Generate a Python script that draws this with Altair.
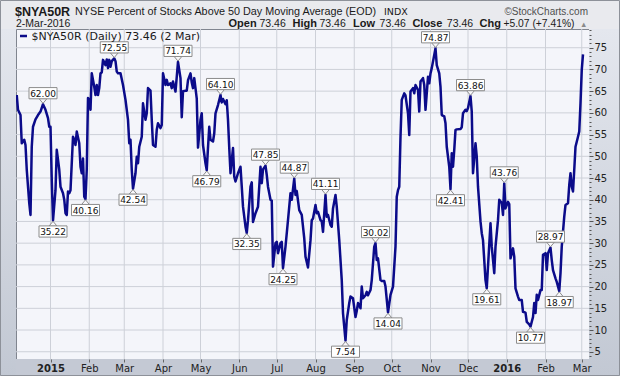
import altair as alt
import pandas as pd

# ---------------- data ----------------
d2014_12 = [5, 6, 8, 9, 11, 12, 13, 15, 16, 17, 18, 20, 22, 24, 26, 28, 30, 31]
v2014_12 = [64.1, 60.7, 59.5, 53.0, 53.8, 52.6, 46.9, 39.2, 36.5, 52.2, 56.8, 58.5, 59.5, 60.3, 62.0, 60.7, 58.8, 56.8]
d2015_01 = [1, 2, 3, 5, 6, 7, 8, 9, 11, 12, 13, 14, 15, 16, 17, 19, 20, 21, 22, 24, 25, 26, 27, 28, 29, 30, 31]
v2015_01 = [56.8, 44.6, 35.22, 42.2, 51.5, 49.2, 46.9, 43.0, 41.5, 40.0, 36.9, 36.5, 41.9, 41.5, 42.2, 54.5, 53.8, 52.6, 55.7, 53.0, 47.6, 46.1, 49.5, 40.7, 40.16, 46.9, 63.4]
d2015_02 = [1, 2, 3, 5, 6, 7, 8, 9, 10, 11, 12, 14, 15, 16, 17, 18, 19, 21, 22, 23, 24, 26, 28]
v2015_02 = [63.0, 60.7, 69.1, 66.0, 64.1, 66.4, 64.1, 65.7, 69.1, 69.3, 72.2, 71.0, 72.3, 70.3, 72.2, 70.6, 71.9, 72.55, 71.9, 69.5, 69.1, 69.1, 66.4]
d2015_03 = [2, 4, 5, 6, 7, 8, 10, 11, 12, 13, 15, 16, 18, 19, 20, 22, 23, 24, 26, 27, 28, 30, 31]
v2015_03 = [63.0, 58.4, 53.0, 53.8, 46.9, 42.54, 46.1, 49.9, 48.4, 52.2, 54.5, 62.2, 58.4, 59.9, 65.7, 65.1, 58.4, 52.6, 52.2, 56.1, 57.6, 56.5, 57.2]
d2015_04 = [1, 3, 4, 5, 7, 8, 9, 11, 12, 13, 15, 16, 17, 19, 20, 21, 23, 24, 25, 26, 28, 29]
v2015_04 = [69.1, 66.4, 67.6, 66.4, 66.8, 65.7, 67.2, 64.9, 68.3, 71.74, 68.0, 59.0, 65.0, 65.1, 65.1, 67.5, 69.1, 67.0, 65.7, 68.0, 63.3, 52.0]
d2015_05 = [1, 2, 3, 5, 6, 7, 8, 9, 11, 12, 13, 15, 17, 18, 19, 21, 22, 23, 24, 25, 27, 28, 29, 31]
v2015_05 = [58.4, 59.9, 52.6, 48.4, 46.79, 52.0, 56.8, 53.8, 53.4, 55.3, 59.9, 61.8, 64.10, 62.4, 63.2, 62.0, 62.9, 58.4, 51.9, 46.1, 51.9, 45.3, 44.2, 46.1]
d2015_06 = [2, 3, 4, 6, 7, 8, 10, 11, 12, 14, 16, 17, 18, 19, 20, 22, 23, 24, 26, 27, 28, 30]
v2015_06 = [47.6, 43.0, 38.4, 33.8, 32.35, 35.3, 43.0, 44.0, 34.9, 36.9, 38.4, 43.0, 47.6, 43.8, 47.0, 47.85, 45.7, 43.0, 40.0, 39.8, 24.6, 30.0]
d2015_07 = [1, 2, 4, 5, 6, 8, 10, 12, 13, 15, 16, 17, 19, 21, 23, 24, 26, 28, 29, 30]
v2015_07 = [30.3, 27.7, 30.0, 30.3, 24.25, 29.2, 35.3, 41.5, 40.0, 44.87, 41.1, 42.0, 37.6, 36.5, 31.1, 26.9, 24.4, 30.7, 35.3, 35.7]
d2015_08 = [1, 2, 3, 5, 6, 7, 9, 10, 11, 13, 14, 15, 17, 18, 20, 22, 23, 25, 26, 28, 29, 31]
v2015_08 = [38.8, 36.9, 37.2, 35.3, 35.0, 32.6, 41.11, 36.1, 36.5, 34.2, 33.8, 38.0, 41.1, 38.4, 30.7, 21.5, 13.9, 7.54, 12.3, 16.2, 17.7, 17.3]
d2015_09 = [2, 3, 4, 6, 7, 8, 10, 11, 12, 14, 15, 17, 18, 19, 20, 22, 23, 25, 26, 28, 30]
v2015_09 = [13.0, 14.4, 16.2, 15.0, 20.0, 17.3, 18.0, 18.8, 18.0, 19.2, 21.5, 29.2, 30.02, 26.1, 26.5, 21.5, 21.3, 21.3, 20.0, 14.04, 18.1]
d2015_10 = [2, 4, 5, 6, 7, 8, 9, 11, 12, 14, 15, 16, 18, 19, 20, 22, 23, 24, 26, 27, 28, 30, 31]
v2015_10 = [20.0, 29.2, 40.7, 42.2, 43.0, 54.5, 63.0, 64.5, 64.0, 59.9, 54.9, 64.9, 65.7, 64.5, 66.4, 65.3, 60.3, 67.2, 68.0, 66.4, 60.7, 68.3, 66.8]
d2015_11 = [1, 2, 4, 5, 6, 8, 9, 10, 12, 13, 14, 16, 17, 18, 19, 20, 21, 22, 25, 26, 27, 29, 30]
v2015_11 = [69.1, 70.3, 73.3, 74.87, 71.0, 69.1, 66.0, 59.5, 59.2, 57.6, 52.2, 47.6, 42.41, 50.7, 47.6, 51.5, 56.1, 56.2, 56.3, 56.7, 59.9, 60.7, 60.4]
d2015_12 = [1, 3, 4, 5, 7, 8, 9, 11, 12, 13, 15, 16, 17, 19, 20, 22, 23, 25, 26, 27, 28, 29, 30, 31]
v2015_12 = [61.1, 63.86, 60.3, 46.1, 53.0, 49.9, 43.0, 35.0, 32.3, 30.7, 21.5, 19.61, 24.6, 34.6, 29.2, 23.1, 29.2, 35.3, 40.0, 39.6, 39.3, 36.5, 43.76, 38.0]
d2016_01 = [2, 3, 4, 6, 7, 8, 10, 11, 13, 14, 16, 17, 18, 19, 20, 22, 23, 24, 25, 26, 28, 29, 30]
v2016_01 = [39.5, 39.0, 26.5, 28.8, 26.9, 19.6, 17.7, 16.9, 16.9, 14.2, 14.0, 11.9, 11.6, 11.3, 10.77, 13.0, 16.2, 13.9, 18.1, 16.9, 19.2, 19.2, 27.3]
d2016_02 = [1, 2, 3, 5, 6, 7, 9, 10, 12, 13, 14, 16, 17, 19, 20, 21, 22, 23, 24, 25, 27, 28, 29]
v2016_02 = [27.7, 23.8, 27.7, 28.97, 26.1, 23.8, 21.9, 21.1, 18.97, 23.1, 29.2, 36.1, 38.8, 39.2, 43.4, 46.1, 43.0, 41.9, 46.9, 52.2, 54.5, 55.7, 62.2]
d2016_03 = [1, 2]
v2016_03 = [69.9, 73.46]

segments = [
    ("2014-12", d2014_12, v2014_12), ("2015-01", d2015_01, v2015_01),
    ("2015-02", d2015_02, v2015_02), ("2015-03", d2015_03, v2015_03),
    ("2015-04", d2015_04, v2015_04), ("2015-05", d2015_05, v2015_05),
    ("2015-06", d2015_06, v2015_06), ("2015-07", d2015_07, v2015_07),
    ("2015-08", d2015_08, v2015_08), ("2015-09", d2015_09, v2015_09),
    ("2015-10", d2015_10, v2015_10), ("2015-11", d2015_11, v2015_11),
    ("2015-12", d2015_12, v2015_12), ("2016-01", d2016_01, v2016_01),
    ("2016-02", d2016_02, v2016_02), ("2016-03", d2016_03, v2016_03),
]

label_dates = ["2014-12-26", "2015-01-03", "2015-01-29", "2015-02-21", "2015-03-08",
               "2015-04-13", "2015-05-06", "2015-05-17", "2015-06-07", "2015-06-22",
               "2015-07-06", "2015-07-15", "2015-08-09", "2015-08-25", "2015-09-18",
               "2015-09-28", "2015-11-05", "2015-11-17", "2015-12-03", "2015-12-16",
               "2015-12-30", "2016-01-20", "2016-02-05", "2016-02-12"]
label_side = ["up", "down", "down", "up", "down", "up", "down", "up", "down", "up",
              "down", "up", "up", "down", "up", "down", "up", "down", "up", "down",
              "up", "down", "up", "down"]

month_starts = ["2015-01-01", "2015-02-01", "2015-03-01", "2015-04-01", "2015-05-01",
                "2015-06-01", "2015-07-01", "2015-08-01", "2015-09-01", "2015-10-01",
                "2015-11-01", "2015-12-01", "2016-01-01", "2016-02-01", "2016-03-01"]
y_grid = [5, 10, 15, 20, 25, 30, 35, 40, 45, 50, 55, 60, 65, 70, 75]
y_minor = list(range(4, 80))

# ---------------- build tables ----------------
rows = []
for ym, ds, vs in segments:
    assert len(ds) == len(vs), ym
    for d, v in zip(ds, vs):
        rows.append({"date": f"{ym}-{d:02d}", "value": v})
df = pd.DataFrame(rows)
lookup = dict(zip(df["date"], df["value"]))
lab = pd.DataFrame({
    "date": label_dates,
    "value": [lookup[d] for d in label_dates],
    "side": label_side,
})
lab["text"] = lab["value"].map(lambda v: f"{v:.2f}")

def ms(s):
    return int(pd.Timestamp(s, tz="UTC").value // 10**6)

W, H = 573, 330
PL, PT = 16, 29
NAVY = "#0b0b8a"
FONT = "DejaVu Sans"

xscale = alt.Scale(type="utc", domain=[ms("2014-12-04 09:36"), ms("2016-03-06 19:12")], nice=False)
yscale = alt.Scale(domain=[3.33, 79.31], nice=False, zero=False)

is_jan = "utcmonth(datum.value) === 0"
xaxis = alt.Axis(
    values=[ms(t) for t in month_starts],
    labelExpr=f"{is_jan} ? utcFormat(datum.value, '%Y') : utcFormat(datum.value, '%b')",
    labelFontWeight={"condition": {"test": is_jan, "value": "bold"}, "value": "normal"},
    grid=False, domain=False, tickSize=3, tickColor="#666",
    labelFont=FONT, labelFontSize=10, labelColor="#222", labelPadding=1,
    labelFlush=False, labelOverlap=False, zindex=1, title=None,
)
is5 = "datum.value % 5 === 0"
yaxis = alt.Axis(
    orient="right", values=y_minor,
    labelExpr=f"{is5} ? datum.label : ''",
    tickSize={"condition": {"test": is5, "value": 4}, "value": 2},
    grid=False, domain=False, tickColor="#555",
    labelFont=FONT, labelFontSize=10, labelColor="#222", labelPadding=1,
    labelFlush=False, labelOverlap=False, zindex=1, title=None,
)

X = alt.X("date:T", scale=xscale, axis=xaxis)
Y = alt.Y("value:Q", scale=yscale, axis=yaxis)

one = pd.DataFrame({"k": [0]})

def box(x1, x2, y1, y2, color):
    return alt.Chart(one).mark_rect(color=color).encode(
        x=alt.value(x1 - PL), x2=alt.value(x2 - PL),
        y=alt.value(y1 - PT), y2=alt.value(y2 - PT))

side_grad = alt.LinearGradient(
    gradient="linear",
    stops=[alt.GradientStop(color="#e4e7ee", offset=0),
           alt.GradientStop(color="#c2c8d3", offset=1)],
    x1=0, x2=0, y1=0, y2=1)

frame = [
    box(0, 620, 0, PT, "#e9eaee"),
    box(0, PL, PT, 376, side_grad),
    box(PL + W, 620, PT, 376, side_grad),
    box(PL, PL + W, PT + H, 376, "#c4c9d4"),
    alt.Chart(one).mark_rect(fillOpacity=0, stroke="#8d9199", strokeWidth=1).encode(
        x=alt.value(-PL + 0.5), x2=alt.value(620 - PL - 0.5),
        y=alt.value(-PT + 0.5), y2=alt.value(376 - PT - 0.5)),
]

grid_x = alt.Chart(pd.DataFrame({"date": month_starts})).mark_rule(
    color="#cdd0d8", strokeWidth=1).encode(x=X)
grid_y = alt.Chart(pd.DataFrame({"value": y_grid})).mark_rule(
    color="#cdd0d8", strokeWidth=1).encode(y=Y)

line = alt.Chart(df).mark_line(color=NAVY, strokeWidth=2.5, strokeJoin="round", clip=True).encode(x=X, y=Y)

BOX = "M-1,-0.4 L1,-0.4 L1,0.4 L-1,0.4 Z"
TRI_DOWN = "M-1,-0.6 L1,-0.6 L0,0.6 Z"
TRI_UP = "M-1,0.6 L1,0.6 L0,-0.6 Z"

def label_layers(side, sign):
    base = alt.Chart(lab).transform_filter(alt.datum.side == side)
    tri = base.mark_point(shape=TRI_DOWN if sign < 0 else TRI_UP, size=64, filled=True,
                          fill="#f8f8fb", stroke="#8c8c8c", strokeWidth=1, opacity=1,
                          yOffset=sign * 3.2).encode(x=X, y=Y)
    rect = base.mark_point(shape=BOX, size=784, filled=True, fill="#ffffff",
                           stroke="#8c8c8c", strokeWidth=1, opacity=1,
                           yOffset=sign * 11).encode(x=X, y=Y)
    text = base.mark_text(font=FONT, fontSize=9, color="#111", baseline="middle",
                          yOffset=sign * 11 + 0.5).encode(x=X, y=Y, text="text:N")
    return [tri, rect, text]

labels = label_layers("up", -1) + label_layers("down", 1)

def txt(s, x, y, size, weight="normal", font="Liberation Sans", color="#1a1a1a", align="left"):
    return alt.Chart(pd.DataFrame({"t": [s]})).mark_text(
        font=font, fontSize=size, fontWeight=weight, color=color, align=align,
        baseline="alphabetic").encode(x=alt.value(x - PL), y=alt.value(y - PT), text="t:N")

header = [
    txt("$NYA50R", 15, 15.5, 12.5, "bold"),
    txt("NYSE Percent of Stocks Above 50 Day Moving Average (EOD)", 75, 15, 10.8),
    txt("INDX", 384, 15, 9.5, font=FONT),
    txt("\u00a9StockCharts.com", 588, 15, 10, color="#505050", align="right"),
    txt("2-Mar-2016", 16, 27, 10.5),
    txt("Open", 228.5, 27, 11, "bold"),
    txt("73.46", 259.5, 27, 10.5),
    txt("High", 292.6, 27, 11, "bold"),
    txt("73.46", 319.5, 27, 10.5),
    txt("Low", 353, 27, 11, "bold"),
    txt("73.46", 379.6, 27, 10.5),
    txt("Close", 412.4, 27, 11, "bold"),
    txt("73.46", 446.8, 27, 10.5),
    txt("Chg", 479.6, 27, 11, "bold"),
    txt("+5.07 (+7.41%)", 503.5, 27, 10.3),
    txt("\u25b2", 580, 26.5, 7.5, color="#8a8a8a"),
]

legend = [
    alt.Chart(one).mark_rule(color=NAVY, strokeWidth=2.5).encode(
        x=alt.value(20 - PL), x2=alt.value(27 - PL), y=alt.value(36 - PT)),
    txt("$NYA50R (Daily) 73.46 (2 Mar)", 31.5, 40, 11, font=FONT, color="#1a1a1a"),
]

chart = alt.layer(
    *frame, grid_x, grid_y, line, *labels, *legend, *header
).properties(
    width=W, height=H,
    padding={"left": PL, "top": PT, "right": 620 - PL - W, "bottom": 376 - PT - H},
    autosize=alt.AutoSizeParams(type="none"),
    background="#e9eaee",
).configure_view(fill="#f4f5fa", stroke="#80858f", strokeWidth=1)

chart.save("out.html", embed_options={"renderer": "svg", "actions": False})
